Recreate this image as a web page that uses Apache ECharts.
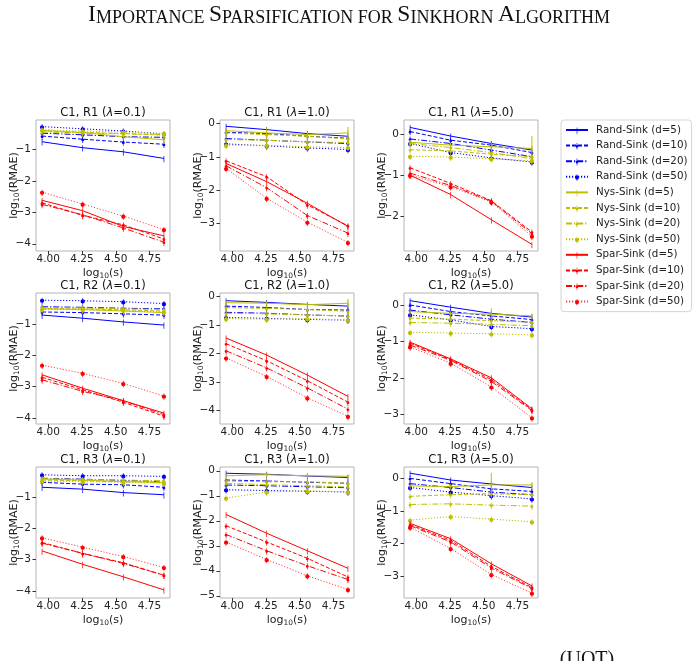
<!DOCTYPE html>
<html>
<head>
<meta charset="utf-8">
<script src="https://cdn.jsdelivr.net/npm/echarts@6/dist/echarts.min.js"></script>
<style>
  html, body { margin: 0; padding: 0; background: #fff; }
  #chart { width: 699px; height: 661px; }
</style>
</head>
<body>
<div id="chart"></div>
<script>
// x positions: log10 of the sample size
const logS = [3.954, 4.255, 4.556, 4.857];
const dims = [5, 10, 20, 50];
const methods = ['Rand-Sink', 'Nys-Sink', 'Spar-Sink'];
const xTicks = [4.0, 4.25, 4.5, 4.75];

// each array: rows d=5, 10, 20, 50 ; columns follow logS
// R1, lambda = 0.1
const randR1L01 = [[-0.76, -0.95, -1.08, -1.29], [-0.58, -0.68, -0.77, -0.84], [-0.49, -0.54, -0.60, -0.62], [-0.28, -0.35, -0.42, -0.51]];
const nysR1L01 = [[-0.40, -0.47, -0.60, -0.70], [-0.42, -0.46, -0.50, -0.55], [-0.45, -0.48, -0.51, -0.53], [-0.38, -0.42, -0.45, -0.50]];
const sparR1L01 = [[-2.62, -2.95, -3.45, -3.75], [-2.70, -3.10, -3.40, -3.85], [-2.75, -3.08, -3.50, -3.95], [-2.36, -2.74, -3.12, -3.55]];
// R1, lambda = 1.0
const randR1L1 = [[-0.08, -0.18, -0.30, -0.38], [-0.26, -0.30, -0.38, -0.44], [-0.45, -0.50, -0.55, -0.60], [-0.61, -0.67, -0.73, -0.78]];
const nysR1L1 = [[-0.21, -0.28, -0.33, -0.28], [-0.28, -0.33, -0.38, -0.46], [-0.48, -0.50, -0.55, -0.57], [-0.65, -0.65, -0.70, -0.72]];
const sparR1L1 = [[-1.20, -1.75, -2.40, -3.10], [-1.12, -1.60, -2.45, -3.08], [-1.27, -1.93, -2.77, -3.30], [-1.35, -2.25, -2.97, -3.58]];
// R1, lambda = 5.0
const randR1L5 = [[0.16, -0.05, -0.23, -0.39], [0.06, -0.15, -0.27, -0.45], [-0.12, -0.23, -0.39, -0.55], [-0.23, -0.45, -0.58, -0.68]];
const nysR1L5 = [[-0.20, -0.27, -0.31, -0.35], [-0.38, -0.41, -0.49, -0.55], [-0.23, -0.33, -0.45, -0.60], [-0.54, -0.56, -0.60, -0.65]];
const sparR1L5 = [[-1.00, -1.47, -2.08, -2.68], [-0.82, -1.20, -1.62, -2.38], [-0.95, -1.25, -1.63, -2.42], [-1.00, -1.28, -1.65, -2.48]];
// R2, lambda = 0.1
const randR2L01 = [[-0.70, -0.80, -0.92, -1.02], [-0.60, -0.62, -0.66, -0.70], [-0.43, -0.45, -0.48, -0.50], [-0.22, -0.24, -0.27, -0.33]];
const nysR2L01 = [[-0.50, -0.52, -0.57, -0.62], [-0.48, -0.50, -0.53, -0.57], [-0.45, -0.47, -0.50, -0.52], [-0.52, -0.53, -0.55, -0.60]];
const sparR2L01 = [[-2.62, -3.05, -3.45, -3.85], [-2.70, -3.10, -3.50, -3.95], [-2.78, -3.15, -3.45, -3.90], [-2.31, -2.57, -2.90, -3.30]];
// R2, lambda = 1.0
const randR2L1 = [[-0.14, -0.20, -0.27, -0.33], [-0.33, -0.38, -0.45, -0.47], [-0.55, -0.58, -0.64, -0.68], [-0.73, -0.76, -0.80, -0.82]];
const nysR2L1 = [[-0.21, -0.23, -0.28, -0.23], [-0.38, -0.41, -0.45, -0.51], [-0.58, -0.60, -0.64, -0.68], [-0.77, -0.79, -0.77, -0.82]];
const sparR2L1 = [[-1.45, -2.05, -2.75, -3.50], [-1.65, -2.25, -2.95, -3.70], [-1.90, -2.50, -3.20, -3.95], [-2.15, -2.80, -3.55, -4.20]];
// R2, lambda = 5.0
const randR2L5 = [[0.12, -0.06, -0.23, -0.33], [0.00, -0.18, -0.30, -0.40], [-0.14, -0.27, -0.39, -0.48], [-0.27, -0.41, -0.59, -0.65]];
const nysR2L5 = [[-0.18, -0.23, -0.25, -0.30], [-0.36, -0.39, -0.43, -0.47], [-0.48, -0.50, -0.53, -0.57], [-0.75, -0.77, -0.79, -0.82]];
const sparR2L5 = [[-1.02, -1.48, -2.00, -2.85], [-1.05, -1.50, -2.05, -2.88], [-1.10, -1.52, -2.10, -2.90], [-1.15, -1.60, -2.25, -3.10]];
// R3, lambda = 0.1
const randR3L01 = [[-0.68, -0.74, -0.85, -0.92], [-0.52, -0.58, -0.60, -0.68], [-0.39, -0.42, -0.46, -0.50], [-0.28, -0.31, -0.31, -0.33]];
const nysR3L01 = [[-0.42, -0.45, -0.50, -0.53], [-0.45, -0.47, -0.50, -0.50], [-0.40, -0.43, -0.45, -0.47], [-0.48, -0.50, -0.52, -0.55]];
const sparR3L01 = [[-2.72, -3.15, -3.55, -3.97], [-2.45, -2.80, -3.10, -3.50], [-2.47, -2.80, -3.12, -3.50], [-2.30, -2.60, -2.90, -3.25]];
// R3, lambda = 1.0
const randR3L1 = [[-0.10, -0.14, -0.21, -0.27], [-0.37, -0.41, -0.46, -0.50], [-0.57, -0.60, -0.64, -0.68], [-0.76, -0.79, -0.82, -0.85]];
const nysR3L1 = [[-0.20, -0.16, -0.20, -0.22], [-0.41, -0.44, -0.44, -0.50], [-0.50, -0.56, -0.60, -0.65], [-1.09, -0.85, -0.80, -0.85]];
const sparR3L1 = [[-1.75, -2.50, -3.20, -3.90], [-2.20, -2.85, -3.50, -4.25], [-2.55, -3.20, -3.80, -4.35], [-2.85, -3.55, -4.20, -4.75]];
// R3, lambda = 5.0
const randR3L5 = [[0.16, -0.05, -0.17, -0.28], [0.00, -0.16, -0.32, -0.40], [-0.16, -0.28, -0.42, -0.50], [-0.28, -0.42, -0.53, -0.63]];
const nysR3L5 = [[-0.23, -0.25, -0.20, -0.20], [-0.55, -0.50, -0.47, -0.50], [-0.80, -0.78, -0.82, -0.85], [-1.28, -1.17, -1.25, -1.33]];
const sparR3L5 = [[-1.38, -1.85, -2.62, -3.30], [-1.42, -1.90, -2.70, -3.35], [-1.45, -1.95, -2.75, -3.38], [-1.50, -2.15, -2.95, -3.52]];

// half-length of the visible error bars of Nys-Sink (d=5), one row per panel
const nysD5Err = [
  [0.03, 0.04, 0.06, 0.13], [0.03, 0.15, 0.05, 0.18], [0.04, 0.06, 0.10, 0.30],
  [0.03, 0.03, 0.05, 0.09], [0.03, 0.04, 0.05, 0.15], [0.03, 0.05, 0.16, 0.06],
  [0.03, 0.03, 0.04, 0.05], [0.03, 0.06, 0.04, 0.05], [0.04, 0.06, 0.37, 0.08]
];

const panelRows = ['R1', 'R2', 'R3'];
const panelLambdas = ['0.1', '1.0', '5.0'];
const panelData = [
  [randR1L01, nysR1L01, sparR1L01], [randR1L1, nysR1L1, sparR1L1], [randR1L5, nysR1L5, sparR1L5],
  [randR2L01, nysR2L01, sparR2L01], [randR2L1, nysR2L1, sparR2L1], [randR2L5, nysR2L5, sparR2L5],
  [randR3L01, nysR3L01, sparR3L01], [randR3L1, nysR3L1, sparR3L1], [randR3L5, nysR3L5, sparR3L5]
];
const yTicks = [
  [-4, -3, -2, -1], [-3, -2, -1, 0], [-2, -1, 0],
  [-4, -3, -2, -1], [-4, -3, -2, -1, 0], [-3, -2, -1, 0],
  [-4, -3, -2, -1], [-5, -4, -3, -2, -1, 0], [-3, -2, -1, 0]
];
const yRange = [
  [-4.23, -0.07], [-3.84, 0.11], [-2.84, 0.34],
  [-4.20, 0.01], [-4.47, 0.13], [-3.27, 0.33],
  [-4.23, -0.03], [-5.09, 0.15], [-3.67, 0.35]
];

const colors = ['#0000ff', '#bfbf00', '#ff0000'];
const dashes = ['solid', [4, 2], [6, 2, 1.2, 2], [1.2, 1.8]];
// marker = small error-bar stroke plus a dot; a zero-area segment fixes the 10x10 box
const BOX = 'M0,0L10,0L10,0Z';
const BAR = 'M4.6,1.5L5.4,1.5L5.4,8.5L4.6,8.5Z';
const dot = r => 'M5,' + (5 - r) + 'A' + r + ',' + r + ',0,1,1,5,' + (5 + r) + 'A' + r + ',' + r + ',0,1,1,5,' + (5 - r) + 'Z';
const symbols = [
  'path://' + BOX + BAR,
  'path://' + BOX + BAR + dot(1.6),
  'path://' + BOX + BAR + dot(1.6),
  'path://' + BOX + BAR + dot(2.4)
];

const colX = [36, 220, 404];
const rowY = [120, 293, 467];
const W = 134, H = 131;
const FONT = 'DejaVu Sans';

const fmtY = v => (v < 0 ? '\u2212' + Math.abs(v) : String(v));
const nameRich = {
  a: { fontFamily: FONT, fontSize: 11, color: '#222', lineHeight: 14 },
  s: { fontFamily: FONT, fontSize: 7.5, color: '#222', lineHeight: 14, padding: [6, 0, 0, 0] }
};

function renderErr(params, api) {
  const top = api.coord([api.value(0), api.value(1) + api.value(2)]);
  const bot = api.coord([api.value(0), api.value(1) - api.value(2)]);
  return {
    type: 'line',
    shape: { x1: top[0], y1: top[1], x2: bot[0], y2: bot[1] },
    style: { stroke: colors[1], lineWidth: 1 }
  };
}

const grids = [], xAxes = [], yAxes = [], series = [], graphics = [];
for (let p = 0; p < 9; p++) {
  const r = Math.floor(p / 3), c = p % 3;
  grids.push({ left: colX[c], top: rowY[r], width: W, height: H, show: true, borderColor: '#b5b5b5', borderWidth: 1, containLabel: false });
  xAxes.push({
    type: 'value', gridIndex: p, min: 3.909, max: 4.902,
    axisLine: { show: false, onZero: false }, splitLine: { show: false },
    axisTick: { show: true, customValues: xTicks, length: 3.5, lineStyle: { color: '#333' } },
    axisLabel: { customValues: xTicks, formatter: v => v.toFixed(2), color: '#222', fontFamily: FONT, fontSize: 10.5, margin: 3 },
    name: '{a|log}{s|10}{a|(s)}', nameLocation: 'middle', nameGap: 14,
    nameTextStyle: { rich: nameRich }
  });
  yAxes.push({
    type: 'value', gridIndex: p, min: yRange[p][0], max: yRange[p][1],
    axisLine: { show: false, onZero: false }, splitLine: { show: false },
    axisTick: { show: true, customValues: yTicks[p], length: 3.5, lineStyle: { color: '#333' } },
    axisLabel: { customValues: yTicks[p], formatter: fmtY, color: '#222', fontFamily: FONT, fontSize: 10.5, margin: 5 },
    name: '{a|log}{s|10}{a|(RMAE)}', nameLocation: 'middle', nameGap: 15, nameRotate: 90,
    nameMoveOverlap: false,
    nameTextStyle: { rich: nameRich }
  });
  graphics.push({
    type: 'text', x: colX[c] + W / 2, y: rowY[r] - 7,
    style: {
      text: '{a|C1, ' + panelRows[r] + ' (}{i|λ}{a|=' + panelLambdas[c] + ')}',
      align: 'center', verticalAlign: 'middle',
      rich: { a: { fontFamily: FONT, fontSize: 11.5, fill: '#111' }, i: { fontFamily: FONT, fontSize: 11.5, fontStyle: 'italic', fill: '#111' } }
    }
  });
  panelData[p].forEach((vals, m) => {
    vals.forEach((ys, k) => {
      series.push({
        type: 'line', name: methods[m] + ' (d=' + dims[k] + ')',
        xAxisIndex: p, yAxisIndex: p,
        data: logS.map((x, i) => [x, ys[i]]),
        symbol: symbols[k], symbolSize: 9, symbolKeepAspect: true,
        lineStyle: { color: colors[m], width: 1, type: dashes[k], opacity: m === 2 && k === 3 ? 0.75 : 1 },
        itemStyle: { color: colors[m] },
        emphasis: { disabled: true },
        animation: false, z: 2 + m
      });
    });
  });
  series.push({
    type: 'custom', xAxisIndex: p, yAxisIndex: p,
    data: logS.map((x, i) => [x, panelData[p][1][0][i], nysD5Err[p][i]]),
    renderItem: renderErr, silent: true, animation: false, z: 3
  });
}

// title in small caps
function smallCaps(str) {
  return str.split(' ').map(w => {
    const lower = w === 'for';
    const head = lower ? '' : '{b|' + w[0].toUpperCase() + '}';
    const rest = lower ? w : w.slice(1);
    return head + (rest ? '{s|' + rest.toUpperCase() + '}' : '');
  }).join('{s| }');
}
graphics.push({
  type: 'text', x: 349, y: 16,
  style: {
    text: smallCaps('Importance Sparsification for Sinkhorn Algorithm'),
    align: 'center', verticalAlign: 'middle',
    rich: {
      b: { fontFamily: 'Liberation Serif', fontSize: 23.5, fill: '#111', verticalAlign: 'bottom', lineHeight: 22 },
      s: { fontFamily: 'Liberation Serif', fontSize: 18, fill: '#111', verticalAlign: 'bottom', lineHeight: 22 }
    }
  }
});
graphics.push({
  type: 'text', x: 587, y: 650,
  style: { text: '(UOT)', align: 'center', verticalAlign: 'top', font: '20px "Liberation Serif"', fill: '#111' }
});

const legendNames = [];
methods.forEach(m => dims.forEach(d => legendNames.push(m + ' (d=' + d + ')')));

const chart = echarts.init(document.getElementById('chart'), null, { renderer: 'canvas' });
chart.setOption({
  animation: false,
  backgroundColor: '#fff',
  grid: grids,
  xAxis: xAxes,
  yAxis: yAxes,
  legend: {
    data: legendNames, orient: 'vertical', left: 561, top: 120,
    itemWidth: 22, itemHeight: 10, itemGap: 5.6, padding: [5, 4, 5, 4],
    backgroundColor: '#fff', borderColor: '#d5d5d5', borderWidth: 1, borderRadius: 3,
    textStyle: { fontFamily: FONT, fontSize: 10.3, color: '#222', padding: [0, 0, 0, 3] },
    selectedMode: false
  },
  graphic: graphics,
  series: series
});
</script>
</body>
</html>
